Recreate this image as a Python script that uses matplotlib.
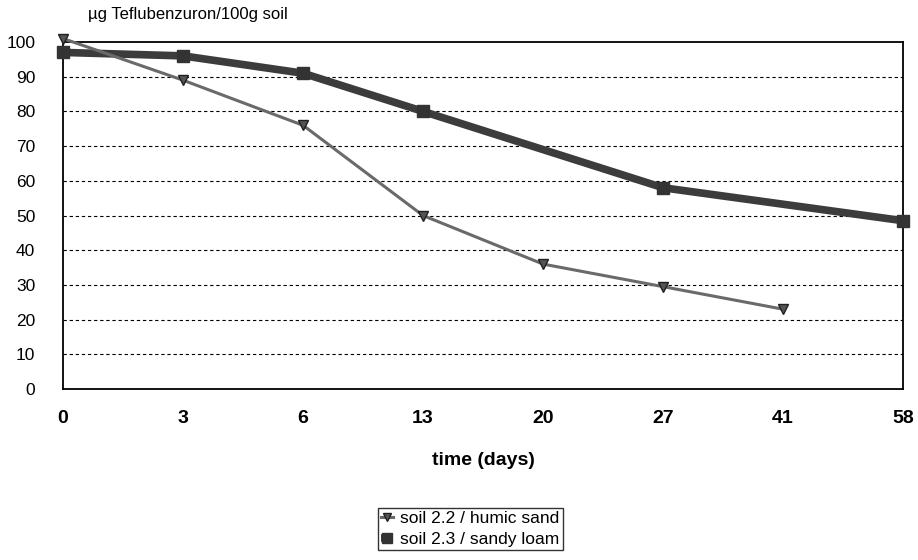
import numpy as np
import matplotlib
matplotlib.use("Agg")
import matplotlib.pyplot as plt

plt.rcParams['font.family'] = ['Liberation Sans', 'DejaVu Sans']

days = ["0", "3", "6", "13", "20", "27", "41", "58"]
humic_idx = [0, 1, 2, 3, 4, 5, 6]
humic_sand = [101, 89, 76, 50, 36, 29.5, 23]
loam_idx = [0, 1, 2, 3, 5, 7]
sandy_loam = [97, 96, 91, 80, 58, 48.5]
yticks = [0, 10, 20, 30, 40, 50, 60, 70, 80, 90, 100]

fig = plt.figure(figsize=(9.18, 5.6), dpi=100)
ax = fig.add_axes([63/918, 1 - 389/560, 840/918, 347/560])

ax.plot(loam_idx, sandy_loam, color="#3c3c3c", lw=5.5, marker="s", ms=9,
        mfc="#333333", mec="#333333", solid_capstyle="butt",
        label="soil 2.3 / sandy loam", zorder=3, clip_on=False)
ax.plot(humic_idx, humic_sand, color="#6a6a6a", lw=2.2, marker="v", ms=7.5,
        mfc="#555555", mec="#202020", label="soil 2.2 / humic sand",
        zorder=4, clip_on=False)

ax.set_xlim(0, len(days) - 1)
ax.set_ylim(0, 100)
ax.set_xticks(range(len(days)))
ax.set_xticklabels(days, fontsize=14, fontweight="bold")
ax.set_yticks(yticks)
ax.set_yticklabels([str(v) for v in yticks], fontsize=12.5)
ax.tick_params(axis="x", length=0, pad=15)
ax.tick_params(axis="y", length=0, pad=20)
for v in yticks[1:-1]:
    ax.axhline(v, color="black", lw=0.8, ls=(0, (3, 2.5)), zorder=1)
for s in ax.spines.values():
    s.set_color("black")
    s.set_linewidth(1.3)

ax.set_xlabel("time (days)", fontsize=14, fontweight="bold", labelpad=18)
fig.text(88/918, 1 - 15/560, "µg Teflubenzuron/100g soil", fontsize=12,
         va="center", ha="left")

h, l = ax.get_legend_handles_labels()
leg = fig.legend(h[::-1], l[::-1], loc="upper left",
                 bbox_to_anchor=(369/918, 1 - 499/560), fontsize=12.5,
                 frameon=True, fancybox=False, edgecolor="black",
                 borderpad=0.2, handlelength=0.7, handletextpad=0.4,
                 labelspacing=0.3, markerscale=0.75)
leg.get_frame().set_linewidth(1.0)

fig.savefig("out.png", dpi=100)
